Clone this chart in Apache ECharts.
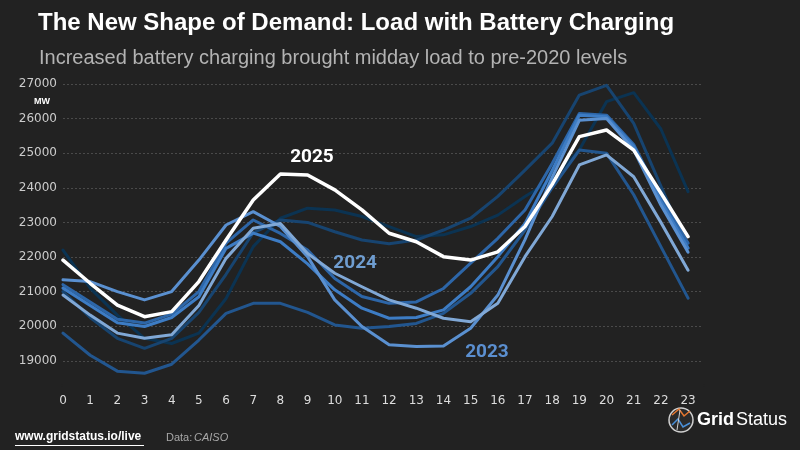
<!DOCTYPE html>
<html>
<head>
<meta charset="UTF-8">
<title>Load with Battery Charging</title>
<script src="https://cdn.jsdelivr.net/npm/echarts@6/dist/echarts.min.js"></script>
<style>
  html, body { margin: 0; padding: 0; background: #222; }
</style>
</head>
<body>
<div id="main" style="width: 800px;height:450px;"></div>
<script type="text/javascript">
    // hours of day and average CAISO load (MW) per year
    var hours = [0,1,2,3,4,5,6,7,8,9,10,11,12,13,14,15,16,17,18,19,20,21,22,23];
    var years = ['2018','2019','2020','2021','2022','2023','2024','2025'];

    var load2018 = [22200,21100,20320,19650,19500,19800,20800,22300,23120,23410,23360,23170,22880,22590,22640,22880,23210,23750,24230,25100,26490,26750,25700,23890];
    var load2019 = [21000,20250,19650,19360,19650,20400,21500,22700,23070,23000,22730,22490,22380,22490,22780,23120,23750,24510,25290,26680,26960,25860,24050,22250];
    var load2020 = [19800,19160,18700,18640,18900,19600,20370,20660,20660,20400,20035,19940,19990,20080,20370,20950,21720,22780,24000,25090,25000,23800,22300,20810];
    var load2021 = [21200,20700,20200,20090,20350,21000,22400,23070,22680,22200,21380,20860,20660,20700,21090,21820,22540,23360,24700,26150,26100,25250,23700,22400];
    var load2022 = [21100,20600,20100,19990,20250,20850,22250,22690,22440,21800,21050,20520,20230,20250,20470,21140,22010,22970,24500,26100,26050,25200,23600,22260];
    var load2023 = [21340,21290,21000,20760,21000,21910,22925,23310,22880,22010,20760,19990,19460,19410,19430,19940,20900,22500,24300,25950,26000,25100,23500,22140];
    var load2024 = [20900,20320,19800,19650,19750,20600,21960,22830,22970,22100,21530,21140,20760,20520,20230,20130,20660,22010,23170,24660,24950,24320,23000,21620];
    var load2025 = [21910,21240,20610,20275,20420,21290,22490,23650,24400,24370,23940,23360,22685,22440,22010,21910,22150,22880,24100,25480,25670,25090,23850,22590];

    var yearLoads = [load2018, load2019, load2020, load2021, load2022, load2023, load2024, load2025];
    var yearColors = ['#0b3352','#174470','#22568f','#2d66a8','#3d7cc4','#5a90d0','#80a8d6','#ffffff'];
    var yTicks = [19000,20000,21000,22000,23000,24000,25000,26000,27000];

    // where the year callouts sit: [hour, MW]
    var callouts = {
        '2023': [15.6, 19250],
        '2024': [10.75, 21830],
        '2025': [9.16, 24890]
    };

    var myChart = echarts.init(document.getElementById('main'));

    var series = years.map(function (yr, i) {
        var s = {
            name: yr,
            type: 'line',
            data: hours.map(function (h, j) { return [h, yearLoads[i][j]]; }),
            symbol: 'none',
            silent: true,
            z: 2 + i,
            lineStyle: {
                color: yearColors[i],
                width: yr === '2025' ? 3.5 : 3,
                cap: 'round',
                join: 'round'
            }
        };
        if (callouts[yr]) {
            s.markPoint = {
                symbol: 'circle',
                symbolSize: 0,
                silent: true,
                label: {
                    show: true,
                    formatter: yr,
                    color: yr === '2025' ? '#ffffff' : (yr === '2024' ? '#6f9dd0' : '#5b8fd0'),
                    fontFamily: 'Roboto',
                    fontWeight: 'bold',
                    fontSize: 19
                },
                data: [{ coord: callouts[yr] }]
            };
        }
        return s;
    });

    myChart.setOption({
        backgroundColor: '#222222',
        animation: false,
        grid: { left: 63, right: 97, top: 84, bottom: 65 },
        xAxis: {
            type: 'value',
            min: 0,
            max: 23.55,
            interval: 1,
            // background-coloured axis line hides the split line at the axis floor
            axisLine: { show: true, lineStyle: { color: '#222222', width: 3 } },
            axisTick: { show: false },
            splitLine: { show: false },
            axisLabel: {
                color: '#dddddd',
                fontFamily: 'DejaVu Sans',
                fontSize: 12,
                margin: 10,
                formatter: function (v) { return hours.indexOf(v) >= 0 ? String(v) : ''; }
            }
        },
        yAxis: {
            type: 'value',
            min: 18300,
            max: 27000,
            splitNumber: 9,
            axisLine: { show: false },
            axisTick: { show: false },
            axisLabel: {
                color: '#cccccc',
                fontFamily: 'DejaVu Sans',
                fontSize: 12,
                margin: 6,
                formatter: function (v) { return yTicks.indexOf(v) >= 0 ? String(v) : ''; }
            },
            splitLine: {
                lineStyle: { color: '#4a4a4a', type: [2, 2], width: 1 }
            }
        },
        series: series,
        graphic: [
            { type: 'text', left: 38, top: 11, style: { text: 'The New Shape of Demand: Load with Battery Charging', fill: '#ffffff', font: 'bold 24px "Liberation Sans"' } },
            { type: 'text', left: 39, top: 48, style: { text: 'Increased battery charging brought midday load to pre-2020 levels', fill: '#b3b3b3', font: '20px "Liberation Sans"' } },
            { type: 'text', left: 34, top: 97, style: { text: 'MW', fill: '#ffffff', font: 'bold 9px "Liberation Sans"' } },
            { type: 'text', left: 15, top: 431, style: { text: 'www.gridstatus.io/live', fill: '#ffffff', font: 'bold 12px "Liberation Sans"' } },
            { type: 'rect', shape: { x: 15, y: 445, width: 129, height: 1 }, style: { fill: '#ffffff' } },
            { type: 'text', left: 166, top: 432, style: { text: 'Data: ', fill: '#a8a8a8', font: '11px "Liberation Sans"' } },
            { type: 'text', left: 194, top: 432, style: { text: 'CAISO', fill: '#a8a8a8', font: 'italic 11px "Liberation Sans"' } },
            // logo mark
            { type: 'circle', shape: { cx: 681, cy: 420, r: 12 }, style: { fill: '#2a2a2a', stroke: '#d0d0d0', lineWidth: 1.5 } },
            { type: 'polyline', shape: { points: [[672, 415], [679, 409], [684, 416], [690, 411]] }, style: { stroke: '#e8772e', lineWidth: 1.5, fill: null } },
            { type: 'polyline', shape: { points: [[672, 425], [678, 419], [683, 427], [690, 423]] }, style: { stroke: '#4a90d9', lineWidth: 1.5, fill: null } },
            { type: 'line', shape: { x1: 680, y1: 410, x2: 677, y2: 430 }, style: { stroke: '#d0d0d0', lineWidth: 1 } },
            { type: 'text', left: 697, top: 411, style: { text: 'Grid', fill: '#ffffff', font: 'bold 18px "Liberation Sans"' } },
            { type: 'text', left: 736, top: 411, style: { text: 'Status', fill: '#ffffff', font: '18px "Liberation Sans"' } }
        ]
    });
</script>
</body>
</html>
